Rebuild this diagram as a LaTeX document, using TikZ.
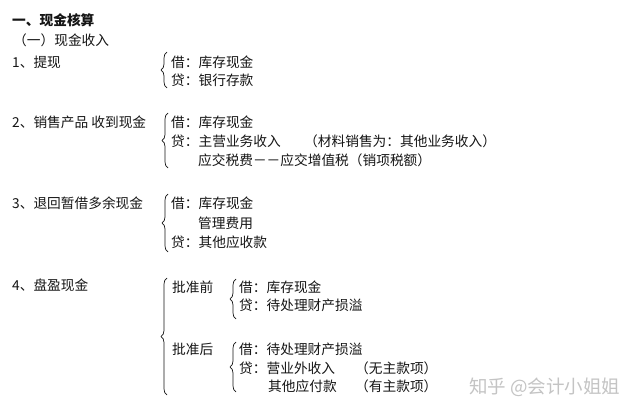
\documentclass[tikz,border=0pt]{standalone}
\usepackage{fontspec}
\setmainfont{Noto Sans CJK SC}
\usetikzlibrary{decorations.pathreplacing}
\definecolor{ink}{HTML}{151515}
\definecolor{wm}{HTML}{C4C4C4}
\tikzset{
  txt/.style={anchor=west,inner sep=0pt,text=ink,font=\fontsize{13.7pt}{15pt}\selectfont},
  brc/.style={draw=ink,line width=0.7pt,decorate,decoration={brace,amplitude=6pt}},
}
\begin{document}
\begin{tikzpicture}[x=1pt,y=-1pt]
\fill[white] (0,0) rectangle (640,417);
\useasboundingbox (0,0) rectangle (640,417);
% headings
\node[txt,font=\fontsize{13.7pt}{15pt}\selectfont\bfseries] (h1) at (12,20) {一、现金核算};
\node[txt] (h2) at (13,40) {（一）现金收入};
% 1
\node[txt] (t1) at (12,62) {1、提现};
\draw[brc] (167,88) -- (167,52);
\node[txt] (a1) at (171,62) {借：库存现金};
\node[txt] (a2) at (171,80) {贷：银行存款};
% 2
\node[txt] (t2) at (12,122) {2、销售产品 收到现金};
\draw[brc] (168,168) -- (168,113);
\node[txt] (b1) at (171,122) {借：库存现金};
\node[txt] (b2) at (171,141) {贷：主营业务收入};
\node[txt] (b2n) at (304,141) {（材料销售为：其他业务收入）};
\node[txt] (b3) at (198,160) {应交税费－－应交增值税（销项税额）};
% 3
\node[txt] (t3) at (12,203) {3、退回暂借多余现金};
\draw[brc] (168,252) -- (168,194);
\node[txt] (c1) at (171,203) {借：库存现金};
\node[txt] (c2) at (198,223) {管理费用};
\node[txt] (c3) at (171,242) {贷：其他应收款};
% 4
\node[txt] (t4) at (12,285) {4、盘盈现金};
\draw[brc] (167,395) -- (167,278);
\node[txt] (p1) at (172,287) {批准前};
\draw[brc] (236,319) -- (236,279);
\node[txt] (d1) at (239,287) {借：库存现金};
\node[txt] (d2) at (239,305) {贷：待处理财产损溢};
\node[txt] (p2) at (172,349) {批准后};
\draw[brc] (236,392) -- (236,342);
\node[txt] (e1) at (239,349) {借：待处理财产损溢};
\node[txt] (e2) at (239,368) {贷：营业外收入};
\node[txt] (e2n) at (355,368) {（无主款项）};
\node[txt] (e3) at (268,386) {其他应付款};
\node[txt] (e3n) at (355,386) {（有主款项）};
% watermark
\node[txt,text=wm,font=\fontsize{18.5pt}{20pt}\selectfont] (wmk) at (469,387) {知乎 @会计小姐姐};
\end{tikzpicture}
\end{document}
